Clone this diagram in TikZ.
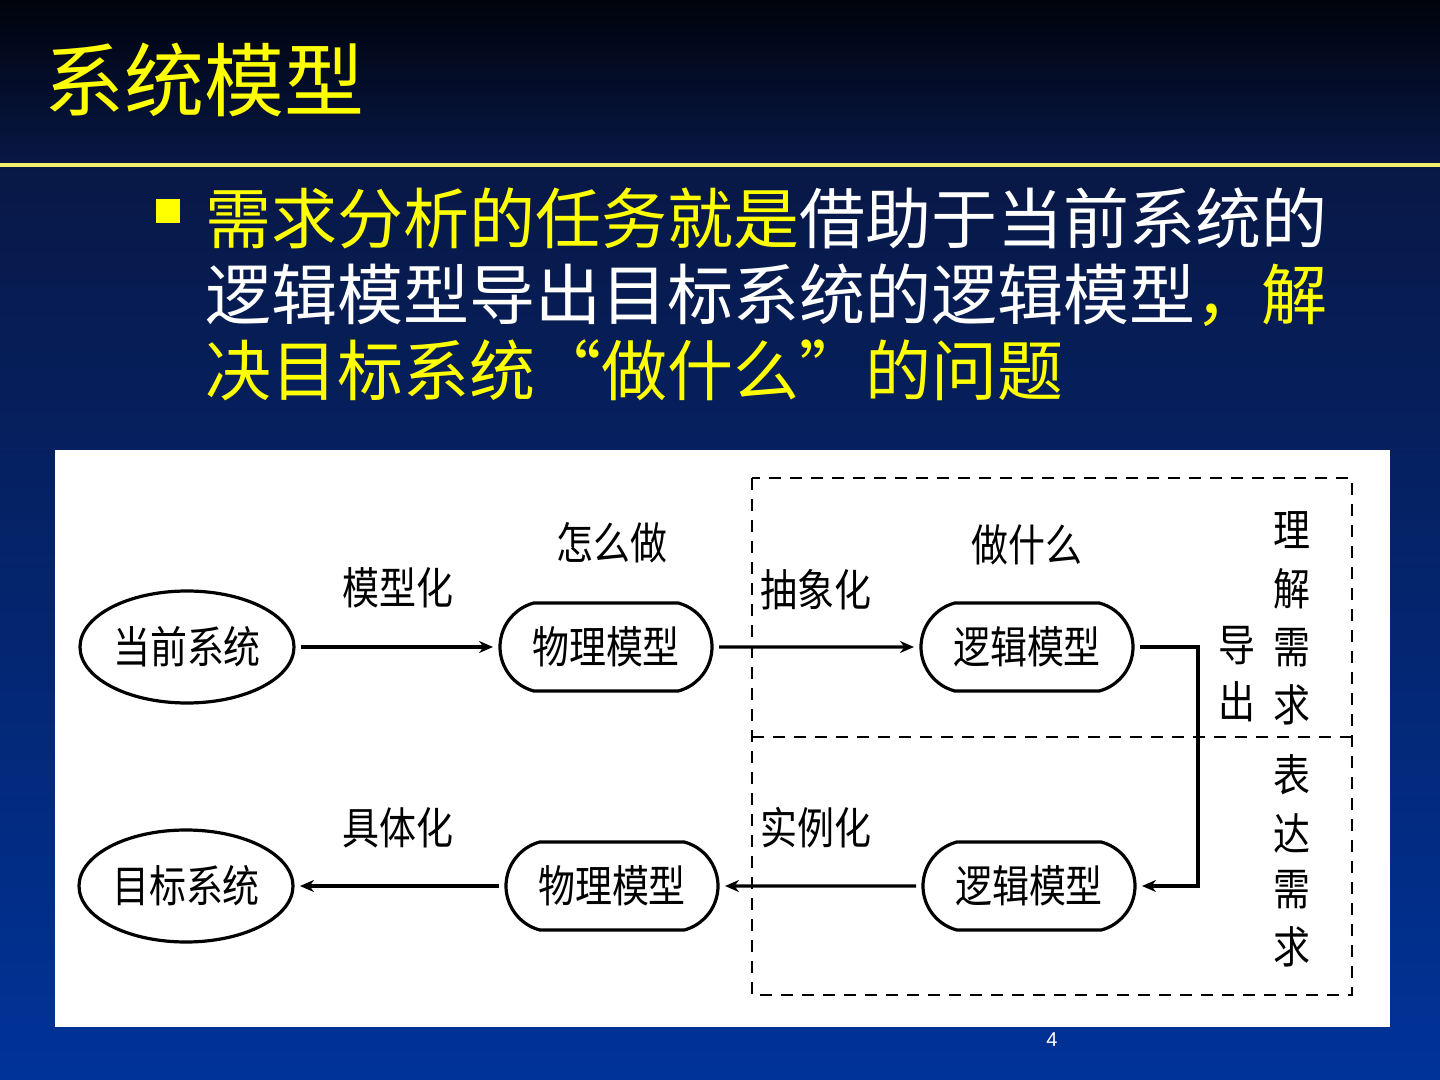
\documentclass[tikz,border=0pt]{standalone}
\usepackage{fontspec}
\newfontfamily\cjk{Noto Sans CJK SC}
\newfontfamily\lsans{Liberation Sans}
\usetikzlibrary{arrows.meta,shapes.geometric,shapes.misc}
\definecolor{yel}{RGB}{255,255,0}
\definecolor{linecol}{RGB}{240,240,110}
\definecolor{topdark}{RGB}{0,3,12}
\definecolor{topmid}{RGB}{8,24,70}
\definecolor{botblue}{RGB}{0,51,153}
\newcommand{\dg}[1]{\scalebox{0.84}[1]{\fontsize{22pt}{22pt}\selectfont\cjk #1}}
\tikzset{
  ellnode/.style={ellipse,draw,line width=1.6pt,minimum width=107pt,minimum height=56pt,inner sep=0pt,outer sep=3.5pt},
  rrnode/.style={rounded rectangle,rounded rectangle arc length=150,draw,line width=1.6pt,minimum width=106pt,minimum height=44pt,inner sep=0pt,outer sep=3.5pt},
  arr/.style={line width=1.7pt,-{Stealth[length=7pt,width=6pt]}},
  dbox/.style={dashed,dash pattern=on 6pt off 4.5pt,line width=1pt},
  lbl/.style={inner sep=0pt},
  bul/.style={anchor=west,inner sep=0pt,font=\cjk\fontsize{33pt}{38pt}\selectfont}
}
\begin{document}
\begin{tikzpicture}[x=0.5pt,y=-0.5pt]
\useasboundingbox (0,0) rectangle (1440,1080);
% background
\shade[top color=topdark,bottom color=topmid] (0,0) rectangle (1440,165);
\shade[top color=topmid,bottom color=botblue] (0,165) rectangle (1440,1080);
\draw[linecol,line width=1.6pt] (0,165) -- (1440,165);
% title
\node[anchor=west,inner sep=0pt,text=yel,font=\cjk\fontsize{40pt}{40pt}\selectfont] (title) at (44,80) {系统模型};
% bullet
\fill[yel] (156,199) rectangle (180,223);
\node[bul] (l1) at (205,218) {\textcolor{yel}{需求分析的任务就是}\textcolor{white}{借助于当前系统的}};
\node[bul] (l2) at (205,295) {\textcolor{white}{逻辑模型导出目标系统的逻辑模型}\textcolor{yel}{，解}};
\node[bul] (l3) at (205,370) {\textcolor{yel}{决目标系统“做什么”的问题}};
% white panel
\fill[white] (55,450) rectangle (1390,1027);
% dashed box
\draw[dbox] (752,478) rectangle (1352,995);
\draw[dbox] (752,737) -- (1352,737);
% nodes
\node[ellnode] (cur) at (187,647) {\dg{当前系统}};
\node[rrnode] (phy1) at (606,647) {\dg{物理模型}};
\node[rrnode] (log1) at (1027,647) {\dg{逻辑模型}};
\node[ellnode] (tgt) at (186,886) {\dg{目标系统}};
\node[rrnode] (phy2) at (612,886) {\dg{物理模型}};
\node[rrnode] (log2) at (1029,886) {\dg{逻辑模型}};
\coordinate (bend) at (1198,760);
% connectors
\draw[arr] (cur) -- (phy1);
\draw[arr] (phy1) -- (log1);
\draw[arr] (log1.east) -- (log1.east -| bend) -- (log2.east -| bend) -- (log2.east);
\draw[arr] (log2) -- (phy2);
\draw[arr] (phy2) -- (tgt);
% labels
\node[lbl] (t1) at (398,588) {\dg{模型化}};
\node[lbl] (t2) at (612,543) {\dg{怎么做}};
\node[lbl,anchor=west] (t3) at (760,590) {\dg{抽象化}};
\node[lbl] (t4) at (1027,545) {\dg{做什么}};
\node[lbl] (t5) at (398,828) {\dg{具体化}};
\node[lbl,anchor=west] (t6) at (760,828) {\dg{实例化}};
\node[lbl] (v1a) at (1292,530) {\dg{理}};
\node[lbl] (v1b) at (1292,589) {\dg{解}};
\node[lbl] (v1c) at (1292,648) {\dg{需}};
\node[lbl] (v1d) at (1292,705) {\dg{求}};
\node[lbl] (v2a) at (1237,646) {\dg{导}};
\node[lbl] (v2b) at (1237,702) {\dg{出}};
\node[lbl] (v3a) at (1292,775) {\dg{表}};
\node[lbl] (v3b) at (1292,833) {\dg{达}};
\node[lbl] (v3c) at (1292,890) {\dg{需}};
\node[lbl] (v3d) at (1292,947) {\dg{求}};
% page number
\node[text=white,font=\lsans\fontsize{10pt}{10pt}\selectfont,inner sep=0pt] (pg) at (1052,1040) {4};
\end{tikzpicture}
\end{document}
